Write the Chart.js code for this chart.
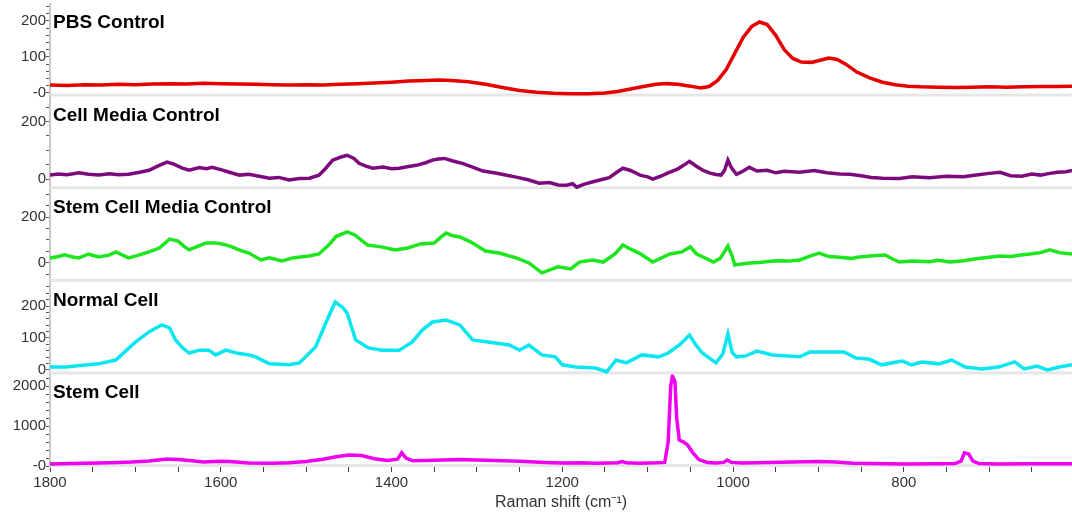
<!DOCTYPE html>
<html lang="en">
<head>
<meta charset="UTF-8">
<title>Raman spectra</title>
<script src="https://cdn.jsdelivr.net/npm/chart.js"></script>
<style>
  html, body { margin: 0; padding: 0; background: #fff; }
  #wrap { width: 1072px; height: 512px; }
</style>
</head>
<body>
<div id="wrap"><canvas id="ramanChart" width="1072" height="512"></canvas></div>
<script>
// Raman shift (cm-1) and intensity for each panel
const pbsShift = [1800,1780,1760,1740,1720,1700,1680,1660,1640,1620,1600,1580,1560,1540,1520,1500,1480,1460,1440,1420,
  1400,1380,1360,1345,1330,1310,1290,1270,1250,1230,1210,1190,1170,1150,1135,1120,1105,1090,1078,1065,
  1050,1038,1028,1018,1008,998,988,978,969,960,950,940,930,920,908,898,888,878,868,855,
  840,825,810,795,780,760,740,720,700,680,660,640,620,603];
const pbsIntensity = [22,21,23,22,24,23,25,26,25,27,26,25,24,23,22,23,22,24,26,28,
  30,33,35,36,35,31,24,15,7,2,-1,-2,-2,0,4,11,18,24,26,24,
  19,14,18,35,65,110,155,185,197,190,160,120,96,86,85,91,97,93,80,58,
  42,30,23,19,17,16,15,16,17,16,17,18,18,19];

const cellMediaShift = [1800,1790,1780,1766,1755,1743,1730,1720,1708,1695,1684,1674,1663,1655,1645,1637,1625,1617,1610,1600,
  1590,1578,1567,1555,1543,1532,1520,1508,1496,1485,1477,1469,1460,1452,1444,1438,1430,1422,1410,1400,
  1391,1380,1371,1360,1352,1345,1338,1328,1317,1305,1293,1280,1268,1254,1240,1227,1215,1205,1195,1188,
  1183,1175,1165,1156,1145,1137,1129,1120,1109,1100,1094,1085,1074,1065,1058,1051,1043,1035,1027,1020,
  1014,1010,1006,1002,996,990,981,972,960,950,940,922,905,890,875,863,850,838,825,805,
  790,770,750,730,715,700,687,675,662,650,640,629,620,610,603];
const cellMediaIntensity = [14,18,15,22,17,14,19,15,17,24,31,45,59,52,38,31,40,36,41,33,
  24,14,17,10,3,6,-3,2,3,14,38,66,76,83,72,55,45,38,42,36,
  38,44,48,57,66,70,72,63,55,42,28,22,15,7,-2,-14,-12,-20,-21,-16,
  -28,-18,-10,-3,5,22,38,30,14,8,0,10,24,35,48,62,45,30,21,16,
  14,30,66,40,17,25,41,28,31,22,27,24,30,22,18,17,12,6,3,2,
  8,5,10,8,14,20,24,12,10,18,14,20,24,26,30];

const stemMediaShift = [1800,1790,1783,1772,1766,1755,1743,1730,1723,1708,1700,1684,1672,1660,1650,1643,1637,1625,1617,1605,
  1595,1587,1577,1567,1553,1543,1528,1516,1497,1485,1473,1465,1452,1443,1428,1412,1396,1381,1366,1350,
  1343,1336,1328,1320,1307,1290,1274,1254,1239,1224,1205,1190,1180,1165,1152,1138,1129,1120,1110,1094,
  1074,1060,1050,1043,1035,1023,1015,1006,1001,998,990,980,969,950,935,922,910,899,888,875,
  862,852,840,822,812,805,790,770,760,746,730,715,700,687,675,663,652,640,629,618,603];
const stemMediaIntensity = [22,28,35,25,22,39,26,35,48,22,30,48,65,104,95,72,57,75,87,87,
  80,70,55,43,13,22,9,22,30,39,80,115,135,122,78,70,57,65,83,87,
  110,130,118,113,91,52,43,22,0,-43,-17,-26,4,13,4,40,78,60,43,4,
  39,48,70,40,26,4,20,74,30,-9,-5,0,2,10,8,13,30,43,28,25,
  20,26,30,35,15,4,8,5,12,4,10,18,25,30,28,35,39,45,57,45,39];

const normalShift = [1800,1781,1762,1743,1723,1700,1684,1677,1669,1660,1653,1645,1637,1625,1614,1606,1594,1580,1567,1559,
  1543,1520,1508,1489,1477,1466,1457,1452,1442,1427,1411,1391,1376,1364,1352,1336,1320,1305,1285,1262,
  1250,1239,1224,1208,1200,1184,1161,1148,1137,1125,1107,1087,1076,1062,1051,1044,1036,1020,1012,1006,
  1001,996,985,972,954,922,910,895,870,856,841,826,802,791,779,759,744,728,709,689,
  670,659,644,632,618,603];
const normalIntensity = [9,9,15,19,31,87,119,130,141,132,94,70,53,62,62,47,62,52,47,41,
  19,16,22,72,147,213,195,178,94,69,62,62,87,125,150,156,141,94,87,78,
  62,78,47,41,16,9,6,-6,31,22,47,41,53,80,109,80,53,22,50,113,
  55,41,44,59,47,41,56,56,56,37,34,16,28,16,25,19,31,9,3,9,
  25,3,12,0,9,16];

const stemShift = [1800,1760,1743,1720,1704,1684,1663,1650,1637,1620,1600,1590,1567,1540,1520,1500,1480,1465,1450,1435,
  1420,1405,1393,1388,1383,1375,1360,1340,1320,1300,1280,1250,1220,1200,1180,1160,1135,1130,1125,1110,
  1090,1080,1076,1073,1071,1068,1066,1063,1058,1053,1047,1040,1030,1020,1011,1007,1002,990,960,930,
  900,880,860,840,800,760,740,733,729,724,719,712,690,650,603];
const stemIntensity = [50,70,75,90,100,125,175,160,140,100,120,115,75,70,80,110,170,230,275,260,
  180,140,170,330,200,130,140,150,160,150,140,120,90,75,80,70,80,110,80,70,
  80,90,600,2000,2250,2100,1200,650,600,520,325,160,90,75,90,150,90,75,90,100,
  110,100,70,60,50,55,60,120,330,300,120,60,50,55,55];

const panelTitles = ['PBS Control', 'Cell Media Control', 'Stem Cell Media Control', 'Normal Cell', 'Stem Cell'];
const yMajorTicks = [[0, 100, 200], [0, 200], [0, 200], [0, 100, 200], [0, 1000, 2000]];
const yTickLabels = [['-0', '100', '200'], ['0', '200'], ['0', '200'], ['0', '100', '200'], ['-0', '1000', '2000']];
const yMinorStep = [20, 50, 50, 20, 200];
const yLimits = [[-10, 247], [-35, 287], [-82, 321], [-14, 276], [-25, 2290]];
const xMajorTicks = [1800, 1600, 1400, 1200, 1000, 800];

const FONT = '"Liberation Sans", Arial, sans-serif';
const series = [
  { shift: pbsShift, values: pbsIntensity, color: '#e60000' },
  { shift: cellMediaShift, values: cellMediaIntensity, color: '#7d0a7d' },
  { shift: stemMediaShift, values: stemMediaIntensity, color: '#1ee61e' },
  { shift: normalShift, values: normalIntensity, color: '#0ae6f0' },
  { shift: stemShift, values: stemIntensity, color: '#f000f0' }
];

const scales = {
  x: {
    type: 'linear',
    position: 'bottom',
    reverse: true,
    min: 603,
    max: 1800,
    afterBuildTicks: s => {
      s.ticks = [];
      for (let v = 1800; v >= 650; v -= 50) s.ticks.push({ value: v });
    },
    afterFit: s => { s.height = 45; s.paddingRight = 0; },
    ticks: {
      autoSkip: false, maxRotation: 0, padding: 2, color: '#333',
      font: { family: FONT, size: 15 },
      callback: v => xMajorTicks.includes(v) ? String(v) : ''
    },
    grid: { drawOnChartArea: false, tickLength: 5, tickColor: '#444' },
    border: { display: false },
    title: {
      display: true, text: 'Raman shift (cm⁻¹)', color: '#333',
      font: { family: FONT, size: 16 }, padding: { top: 0, bottom: 0 }
    }
  }
};

// one y axis per panel, stacked on the left
panelTitles.forEach((t, i) => {
  scales['y' + i] = {
    type: 'linear',
    position: 'left',
    stack: 'panels',
    stackWeight: 1,
    weight: 5 - i,
    min: yLimits[i][0],
    max: yLimits[i][1],
    afterBuildTicks: s => {
      const st = yMinorStep[i];
      s.ticks = [];
      for (let v = Math.ceil(s.min / st) * st; v <= s.max; v += st) s.ticks.push({ value: v });
    },
    afterFit: s => { s.width = 50; s.paddingTop = 0; s.paddingBottom = 0; },
    ticks: {
      autoSkip: false, padding: 0, color: '#333',
      font: { family: FONT, size: 15 },
      callback: v => {
        const k = yMajorTicks[i].indexOf(v);
        return k < 0 ? '' : yTickLabels[i][k];
      }
    },
    grid: { drawOnChartArea: false, tickLength: 4, tickColor: '#555' },
    border: { color: '#c8c8c8', width: 2 }
  };
});

// grey separator under each panel + panel titles
const panelDecor = {
  id: 'panelDecor',
  beforeDatasetsDraw(chart) {
    const { ctx, chartArea } = chart;
    ctx.save();
    ctx.fillStyle = '#e6e6e6';
    panelTitles.forEach((t, i) => {
      const s = chart.scales['y' + i];
      ctx.fillRect(chartArea.left, s.bottom - 3, chartArea.right - chartArea.left, 3);
    });
    ctx.restore();
  },
  afterDatasetsDraw(chart) {
    const { ctx, chartArea } = chart;
    ctx.save();
    ctx.fillStyle = '#000';
    ctx.font = 'bold 19px ' + FONT;
    ctx.textBaseline = 'alphabetic';
    panelTitles.forEach((t, i) => {
      const s = chart.scales['y' + i];
      ctx.fillText(t, chartArea.left + 3, s.top + 24);
    });
    ctx.restore();
  }
};

new Chart(document.getElementById('ramanChart'), {
  type: 'line',
  data: {
    datasets: series.map((s, i) => ({
      label: panelTitles[i],
      data: s.shift.map((x, k) => ({ x: x, y: s.values[k] })),
      xAxisID: 'x',
      yAxisID: 'y' + i,
      borderColor: s.color,
      borderWidth: 3.5,
      pointRadius: 0,
      tension: 0,
      fill: false
    }))
  },
  options: {
    responsive: false,
    animation: false,
    events: [],
    layout: { padding: { top: 4, left: 0, right: 0, bottom: 0 } },
    plugins: { legend: { display: false }, tooltip: { enabled: false } },
    scales: scales
  },
  plugins: [panelDecor]
});
</script>
</body>
</html>
